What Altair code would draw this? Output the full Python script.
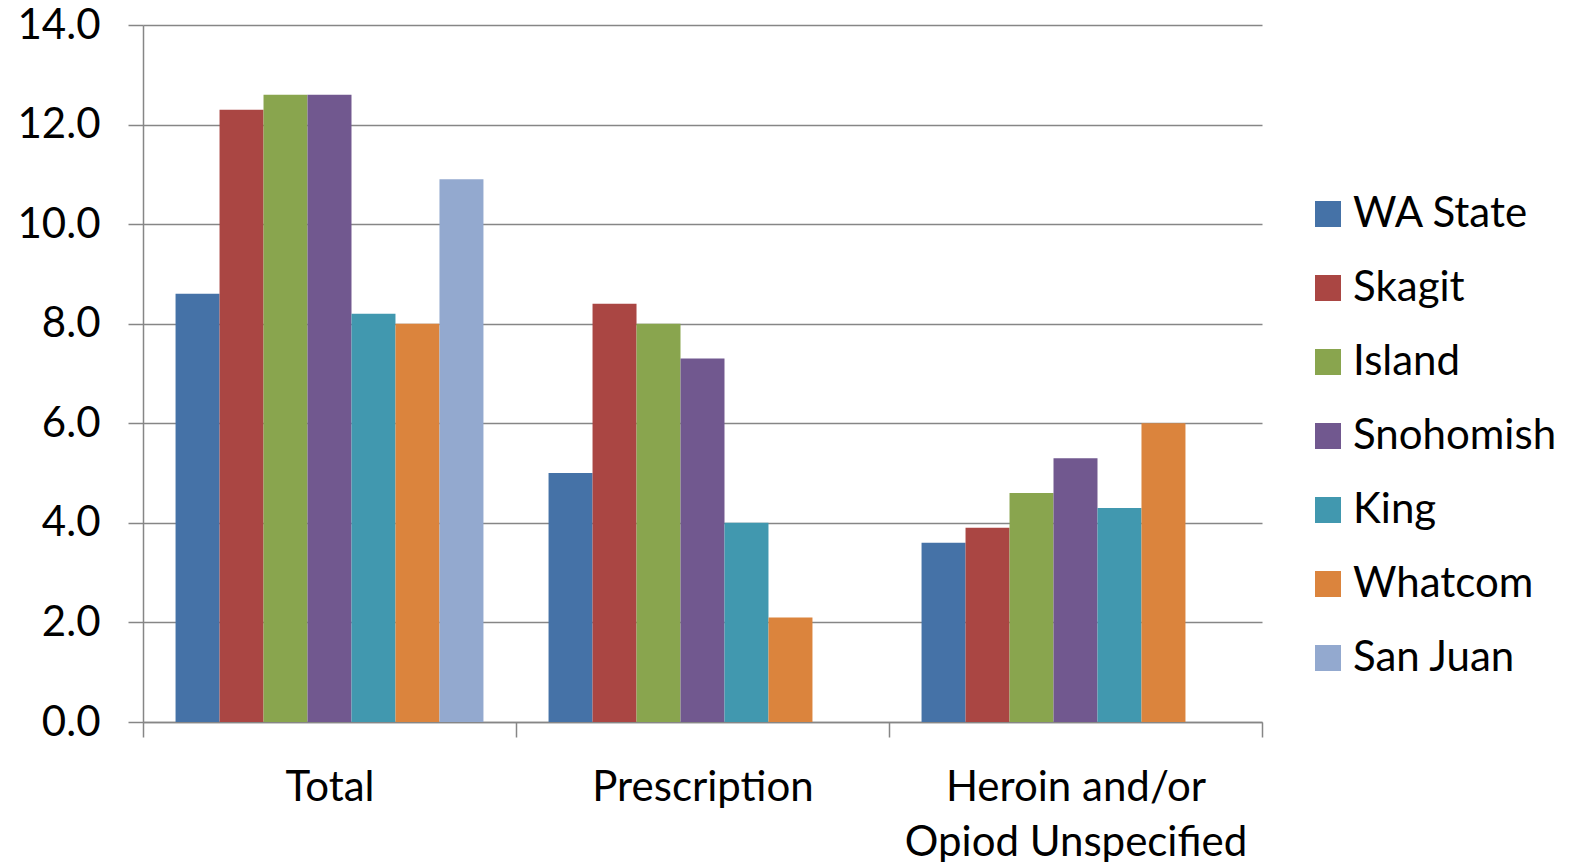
import altair as alt
import pandas as pd

categories = ["Total", "Prescription", "Heroin and/or Opiod Unspecified"]
series = ["WA State", "Skagit", "Island", "Snohomish", "King", "Whatcom", "San Juan"]
colors = ["#4572A7", "#AA4643", "#89A54E", "#71588F", "#4198AF", "#DB843D", "#93A9CF"]
total = [8.6, 12.3, 12.6, 12.6, 8.2, 8.0, 10.9]
prescription = [5.0, 8.4, 8.0, 7.3, 4.0, 2.1, None]
heroin = [3.6, 3.9, 4.6, 5.3, 4.3, 6.0, None]

rows = []
for cat, vals in zip(categories, [total, prescription, heroin]):
    for s, v in zip(series, vals):
        if v is not None:
            rows.append({"category": cat, "series": s, "value": v})
df = pd.DataFrame(rows)

FONT = "Lato"
FS = 42
GRID = "#868686"

chart = alt.Chart(df).mark_bar().encode(
    x=alt.X("category:N", sort=categories,
            scale=alt.Scale(paddingInner=0, paddingOuter=0),
            axis=alt.Axis(title=None, labelAngle=0, tickBand="extent", tickSize=15,
                          tickColor=GRID, domainColor=GRID, tickWidth=1.5, domainWidth=1.5,
                          labelFont=FONT, labelFontSize=FS, labelColor="black",
                          labelPadding=30, labelLineHeight=55, labelLimit=600,
                          labelExpr="datum.label == 'Heroin and/or Opiod Unspecified' ? ['Heroin and/or', 'Opiod Unspecified'] : datum.label")),
    xOffset=alt.XOffset("series:N", sort=series,
                        scale=alt.Scale(domain=series, paddingInner=0, paddingOuter=0.74)),
    y=alt.Y("value:Q", scale=alt.Scale(domain=[0, 14], nice=False),
            axis=alt.Axis(title=None, values=[0, 2, 4, 6, 8, 10, 12, 14], format=".1f",
                          tickSize=15, tickColor=GRID, domainColor=GRID, gridColor=GRID,
                          tickWidth=1.5, domainWidth=1.5, gridWidth=1.5,
                          labelFont=FONT, labelFontSize=FS, labelColor="black",
                          labelPadding=28)),
    color=alt.Color("series:N", sort=series,
                    scale=alt.Scale(domain=series, range=colors),
                    legend=alt.Legend(title=None, orient="none", legendX=1164, legendY=168,
                                      symbolType="square", symbolSize=676, symbolStrokeWidth=0,
                                      labelFont=FONT, labelFontSize=FS, labelColor="black",
                                      labelOffset=4, rowPadding=32, labelLimit=400)),
).properties(
    width=1119, height=697,
    autosize=alt.AutoSizeParams(type="none"),
    padding={"left": 135, "top": 17, "right": 302, "bottom": 140},
).configure_view(stroke=None).configure_axis(grid=False).configure_axisY(grid=True)

chart.save("out.html", embed_options={"renderer": "svg", "actions": False})
